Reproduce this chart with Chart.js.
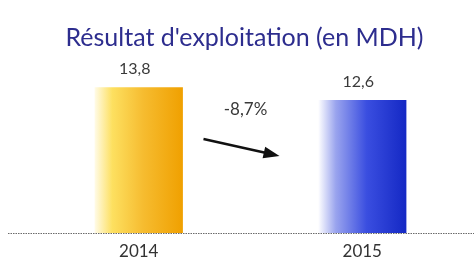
<!DOCTYPE html>
<html>
<head>
<meta charset="utf-8">
<script src="https://cdn.jsdelivr.net/npm/chart.js@4/dist/chart.umd.min.js"></script>
<style>
html,body{margin:0;padding:0;background:#fff;}
#wrap{width:474px;height:264px;}
</style>
</head>
<body>
<div id="wrap"><canvas id="c" width="474" height="264"></canvas></div>
<script>
const categories = ["2014", "2015"];
const values = [13.8, 12.6];
const valueLabels = ["13,8", "12,6"];
const changeLabel = "-8,7%";
const titleText = "Résultat d'exploitation (en MDH)";

const barColors = [
  ["#fffbe8", "#fde060", "#f6bc30", "#f0a000"],
  ["#ffffff", "#9aa4ee", "#3a4ee0", "#1428c4"]
];
const BAR_PCT = 0.395;

function barGradient(ctx) {
  const chart = ctx.chart;
  const xs = chart.scales && chart.scales.x;
  if (!xs || !chart.chartArea || ctx.dataIndex === undefined) return barColors[0][3];
  const cx = xs.getPixelForValue(ctx.dataIndex);
  const catW = xs.width / categories.length;
  const half = catW * BAR_PCT / 2;
  const g = chart.ctx.createLinearGradient(cx - half, 0, cx + half, 0);
  const cols = barColors[ctx.dataIndex % barColors.length];
  g.addColorStop(0, cols[0]);
  g.addColorStop(0.2, cols[1]);
  g.addColorStop(0.55, cols[2]);
  g.addColorStop(1, cols[3]);
  return g;
}

const annot = {
  id: "annot",
  afterDatasetsDraw(chart) {
    const c = chart.ctx;
    const xs = chart.scales.x, ys = chart.scales.y;
    const meta = chart.getDatasetMeta(0);
    c.save();
    c.fillStyle = "#3a3a3a";
    c.font = "16px Lato, 'DejaVu Sans', sans-serif";
    c.textAlign = "center";
    c.textBaseline = "bottom";
    meta.data.forEach((el, i) => {
      c.fillText(valueLabels[i], el.x - 4, el.y - 10);
    });
    const mid = xs.getPixelForValue(0.5);
    const yTop = ys.getPixelForValue(values[1]);
    c.textBaseline = "middle";
    c.font = "17px Lato, 'DejaVu Sans', sans-serif";
    c.fillText(changeLabel, mid - 5, yTop + 10);
    const x0 = mid - 47, y0 = yTop + 39, x1 = mid + 29, y1 = yTop + 56;
    c.strokeStyle = "#111";
    c.fillStyle = "#111";
    c.lineWidth = 2.5;
    c.beginPath();
    c.moveTo(x0, y0);
    c.lineTo(x1 - 12, y1 - 2.7);
    c.stroke();
    const ang = Math.atan2(y1 - y0, x1 - x0);
    c.beginPath();
    c.moveTo(x1, y1);
    c.lineTo(x1 - 16 * Math.cos(ang) + 6 * Math.sin(ang), y1 - 16 * Math.sin(ang) - 6 * Math.cos(ang));
    c.lineTo(x1 - 16 * Math.cos(ang) - 6 * Math.sin(ang), y1 - 16 * Math.sin(ang) + 6 * Math.cos(ang));
    c.closePath();
    c.fill();
    const yb = ys.getPixelForValue(0) + 0.5;
    c.strokeStyle = "#6a6a6a";
    c.lineWidth = 1.2;
    c.setLineDash([1.5, 1]);
    c.beginPath();
    c.moveTo(8, yb);
    c.lineTo(474, yb);
    c.stroke();
    c.restore();
  }
};

new Chart(document.getElementById("c"), {
  type: "bar",
  data: {
    labels: categories,
    datasets: [{
      data: values,
      backgroundColor: barGradient,
      borderWidth: 0,
      categoryPercentage: 1,
      barPercentage: BAR_PCT
    }]
  },
  options: {
    responsive: false,
    animation: false,
    layout: { padding: { left: 15, right: 0, top: 0, bottom: -6 } },
    plugins: {
      legend: { display: false },
      tooltip: { enabled: false },
      title: {
        display: true,
        text: titleText,
        color: "#2d2d8e",
        font: { family: "Lato, 'DejaVu Sans', sans-serif", size: 25, weight: "normal" },
        padding: { top: 23, bottom: 9 }
      }
    },
    scales: {
      x: {
        grid: { display: false, drawTicks: false, tickLength: 0 },
        border: { display: false },
        ticks: { color: "#333", font: { family: "Lato, 'DejaVu Sans', sans-serif", size: 17, lineHeight: 1 }, padding: 10 }
      },
      y: {
        display: true,
        min: 0,
        max: 16.2,
        grid: { display: false, drawTicks: false },
        border: { display: false },
        ticks: { display: false },
        afterFit(scale) { scale.width = 12; }
      }
    }
  },
  plugins: [annot]
});
</script>
</body>
</html>
